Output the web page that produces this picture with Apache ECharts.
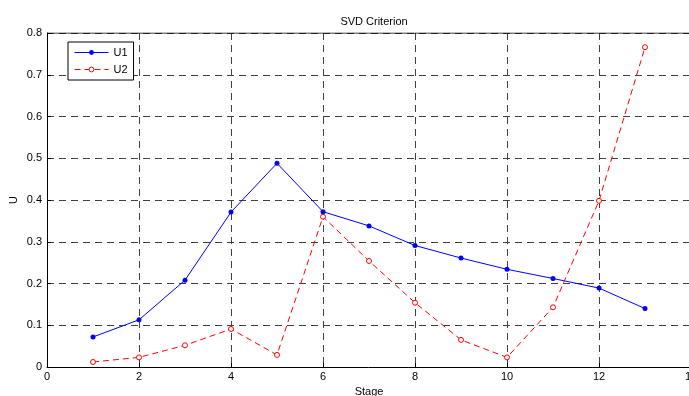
<!DOCTYPE html>
<html><head><meta charset="utf-8">
<script src="https://cdn.jsdelivr.net/npm/echarts@6/dist/echarts.min.js"></script>
<style>html,body{margin:0;padding:0;background:#fff}#c{width:689px;height:396px}</style>
</head><body><div id="c"></div>
<script>
const stages = [1,2,3,4,5,6,7,8,9,10,11,12,13];
const u1 = [0.072,0.113,0.208,0.371,0.488,0.372,0.338,0.291,0.261,0.234,0.212,0.189,0.140];
const u2 = [0.012,0.023,0.052,0.091,0.029,0.360,0.254,0.154,0.065,0.023,0.143,0.398,0.766];
const titleText = 'SVD Criterion';
const xName = 'Stage';
const yName = 'U';

const font = 'Liberation Sans, Arial, sans-serif';
const gridLine = {show:true, lineStyle:{color:'#404040', type:[7,5], width:1}};
const chart = echarts.init(document.getElementById('c'));
chart.setOption({
  animation:false,
  backgroundColor:'#fff',
  title:{text:titleText, left:369, top:11, textAlign:'center',
    textStyle:{fontFamily:font, fontSize:11, fontWeight:'normal', color:'#000'}},
  legend:{orient:'vertical', left:68, top:42, itemWidth:34, itemHeight:6, itemGap:6,
    padding:[5,6,5,6], borderColor:'#000', borderWidth:1, backgroundColor:'#fff',
    lineStyle:{width:1}, itemStyle:{borderWidth:1},
    textStyle:{fontFamily:font, fontSize:11, color:'#000'}, data:['U1','U2']},
  grid:{left:47, top:33, right:-2, bottom:29, containLabel:false, outerBoundsMode:'none', show:false},
  xAxis:{type:'value', min:0, max:14, interval:2, name:xName, nameLocation:'middle', nameGap:19,
    nameMoveOverlap:false,
    nameTextStyle:{fontFamily:font, fontSize:11, color:'#000'},
    axisLine:{show:true, onZero:false, lineStyle:{color:'#000', width:1}},
    axisTick:{show:true, inside:true, length:4, lineStyle:{color:'#000'}},
    axisLabel:{fontFamily:font, fontSize:11, color:'#000', margin:4},
    splitLine:gridLine},
  yAxis:{type:'value', min:0, max:0.8, interval:0.1, name:yName, nameLocation:'middle', nameGap:28,
    nameMoveOverlap:false,
    nameTextStyle:{fontFamily:font, fontSize:11, color:'#000'},
    axisLine:{show:true, lineStyle:{color:'#000', width:1}},
    axisTick:{show:true, inside:true, length:4, lineStyle:{color:'#000'}},
    axisLabel:{fontFamily:font, fontSize:11, color:'#000', margin:5, formatter:v=>String(+v.toFixed(1))},
    splitLine:gridLine},
  series:[
    {name:'U1', type:'line', data:stages.map((s,i)=>[s,u1[i]]), symbol:'circle', symbolSize:5,
     lineStyle:{color:'#0000ff', width:1}, itemStyle:{color:'#0000ff'}, z:3},
    {name:'U2', type:'line', data:stages.map((s,i)=>[s,u2[i]]), symbol:'circle', symbolSize:5,
     lineStyle:{color:'#ff0000', width:1, type:[6,4]},
     itemStyle:{color:'#ffffff', borderColor:'#ff0000', borderWidth:1},
     emphasis:{disabled:true}, z:4},
    {type:'line', data:[[0,0.8],[14,0.8]], symbol:'none', silent:true,
     lineStyle:{color:'#000', width:1}, z:5}
  ]
});
</script></body></html>
